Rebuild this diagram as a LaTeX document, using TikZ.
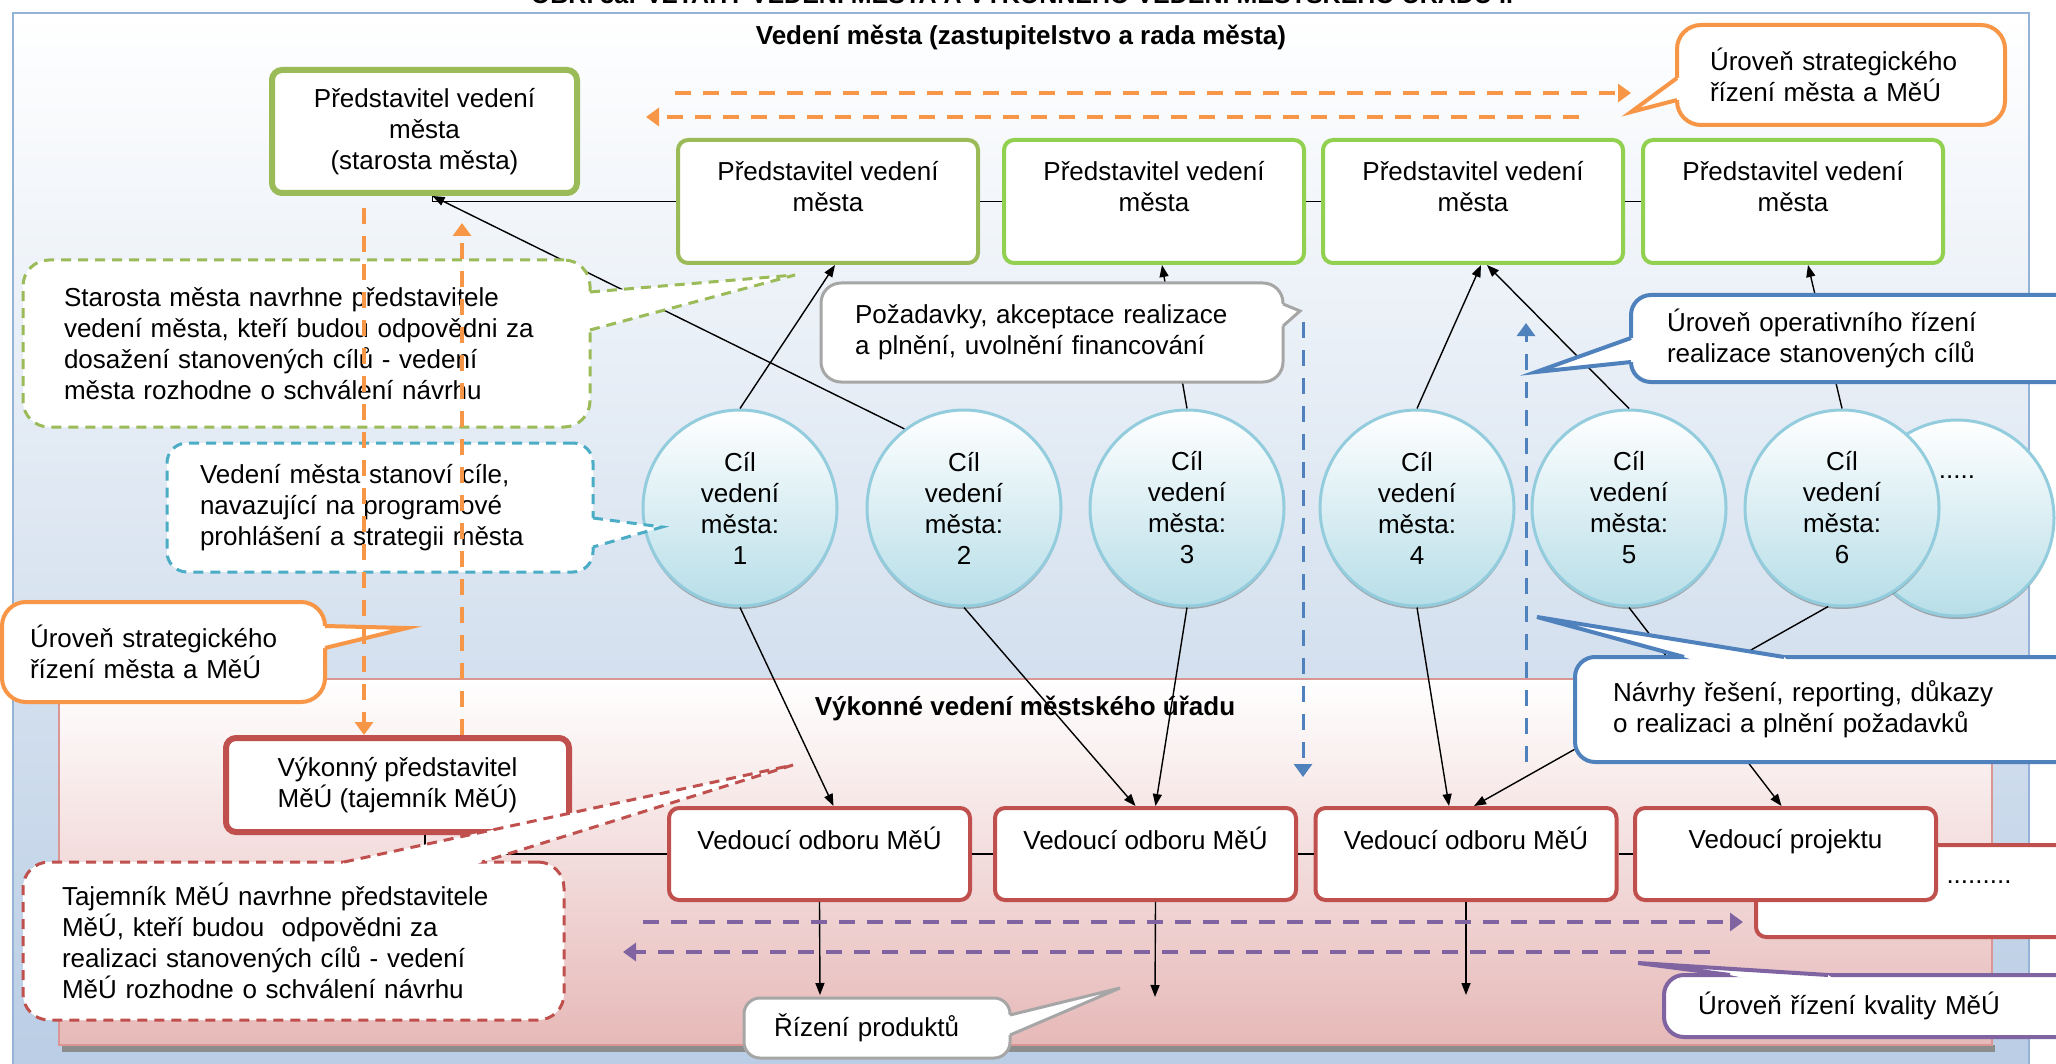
\documentclass[tikz,border=0pt]{standalone}
\usepackage{fontspec}
\setmainfont{Liberation Sans}
\usetikzlibrary{arrows.meta,shadows,calc,shapes.geometric}

\definecolor{panelblue}{HTML}{B8CCE4}
\definecolor{panelline}{HTML}{95B3D7}
\definecolor{panelpink}{HTML}{E6B9B8}
\definecolor{pinkline}{HTML}{D99694}
\definecolor{olivegreen}{HTML}{9BBB59}
\definecolor{lightgreen}{HTML}{92D050}
\definecolor{goalfill}{HTML}{B7DEE8}
\definecolor{goalline}{HTML}{93CDDD}
\definecolor{officered}{HTML}{C0504D}
\definecolor{stratorange}{HTML}{F79646}
\definecolor{operblue}{HTML}{4F81BD}
\definecolor{aqua}{HTML}{4BACC6}
\definecolor{quality}{HTML}{8064A2}
\definecolor{notegray}{HTML}{A6A6A6}

% tail of a speech bubble: node, style, base, tip, base
\newcommand\calltail[5]{%
  \fill[white] ($#3!6pt!(#1.center)$) -- #3 -- #4 -- #5 -- ($#5!6pt!(#1.center)$) -- cycle;
  \draw[#2] #3 -- #4 -- #5;}

\begin{document}
\begin{tikzpicture}[x=0.5pt,y=-0.5pt,font=\fontsize{13pt}{15.5pt}\selectfont,
  head/.style={font=\bfseries\fontsize{13pt}{15.5pt}\selectfont},
  leader/.style={draw=#1,fill=white,rounded corners=5pt,line width=2pt,align=center,
    minimum width=150pt,minimum height=61.5pt},
  chief/.style={draw=officered,fill=white,rounded corners=5pt,line width=2pt,align=center,
    minimum width=150.5pt,minimum height=46pt},
  goal/.style={ellipse,draw=goalline,line width=1.5pt,top color=white,bottom color=goalfill,
    minimum width=97pt,minimum height=98pt,inner sep=0pt,align=center,
    drop shadow={shadow xshift=0pt,shadow yshift=-1.5pt,fill=black!60,opacity=.5}},
  bubble/.style={fill=white,rounded corners=10pt,align=left,inner ysep=0pt},
  dashnote/.style={draw=#1,line width=1.5pt,dash pattern=on 5pt off 3.5pt},
  link/.style={line width=0.7pt,-{Triangle[length=6pt,width=4.5pt]}},
  flow/.style={draw=#1,line width=1.8pt,dash pattern=on 8pt off 6pt,
    -{Triangle[length=6.5pt,width=9pt]}},
]
\useasboundingbox (0,0) rectangle (2056,1064);

% panels
\shade[top color=white,bottom color=panelblue] (13,13) rectangle (2029,1090);
\draw[panelline,line width=1.2pt] (13,1090) -- (13,13) -- (2029,13) -- (2029,1090);
\fill[black!45] (62,1045) rectangle (1995,1052);
\shade[top color=white,bottom color=panelpink] (59,679) rectangle (1992,1045);
\draw[pinkline,line width=1pt] (59,679) rectangle (1992,1045);

\node[font=\bfseries\fontsize{12.5pt}{15pt}\selectfont,anchor=base] (figtitle) at (1022,4)
  {OBR. 3a: VZTAHY VEDENÍ MĚSTA A VÝKONNÉHO VEDENÍ MĚSTSKÉHO ÚŘADU I.};
\node[head] (cityhead) at (1021,37) {Vedení města (zastupitelstvo a rada města)};
\node[head] (officehead) at (1025,708) {Výkonné vedení městského úřadu};

% city leaders
\node[leader=olivegreen,line width=3pt,minimum width=152.5pt] (mayor) at (424.5,131.5)
  {Představitel vedení\\města\\(starosta města)};
\node[leader=olivegreen] (rep1) at (828,201.5) {Představitel vedení\\města\\~};
\node[leader=lightgreen] (rep2) at (1154,201.5) {Představitel vedení\\města\\~};
\node[leader=lightgreen] (rep3) at (1473,201.5) {Představitel vedení\\města\\~};
\node[leader=lightgreen] (rep4) at (1793,201.5) {Představitel vedení\\města\\~};

% goals
\node[goal] (goal7) at (1957,518) {\raisebox{20pt}[0pt][0pt]{.....}};
\foreach \n/\x in {1/740,2/964,3/1187,4/1417,5/1629,6/1842}
  \node[goal] (goal\n) at (\x,508) {Cíl\\vedení\\města:\\\n};

% office
\node[chief,line width=3pt,minimum width=171.5pt,minimum height=47pt] (secretary) at (397.5,785)
  {Výkonný představitel\\MěÚ (tajemník MěÚ)};
\node[chief,minimum width=157pt] (deptmore) at (1913,891)
  {\raisebox{4pt}[0pt][0pt]{\hspace*{66pt}.........}};
\foreach \name/\x/\t in {dept1/819.5/Vedoucí odboru MěÚ,dept2/1145.5/Vedoucí odboru MěÚ,
    dept3/1466/Vedoucí odboru MěÚ,project/1785.5/Vedoucí projektu}
  \node[chief] (\name) at (\x,854) {\t\\~};

% org lines
\draw[line width=0.7pt] ([xshift=4pt]mayor.south) |- (rep1.west)
  (rep1.east) -- (rep2.west) (rep2.east) -- (rep3.west) (rep3.east) -- (rep4.west);
\draw[line width=0.7pt] ([xshift=13.75pt]secretary.south) |- (dept1.west)
  (dept1.east) -- (dept2.west) (dept2.east) -- (dept3.west) (dept3.east) -- (project.west);

% goals up and down
\draw[link] (goal1.north) -- ([xshift=3.5pt]rep1.south);
\draw[link] (goal2.127) -- ([xshift=4pt]mayor.south);
\draw[link] (goal3.north) -- ([xshift=4pt]rep2.south);
\draw[link] (goal4.north) -- ([xshift=4pt]rep3.south);
\draw[link] (goal5.north) -- ([xshift=7pt]rep3.south);
\draw[link] (goal6.north) -- ([xshift=7.5pt]rep4.south);
\draw[link] (goal1.south) -- ([xshift=7pt]dept1.north);
\draw[link] (goal2.south) -- ([xshift=-5pt]dept2.north);
\draw[link] (goal3.south) -- ([xshift=5pt]dept2.north);
\draw[link] (goal4.south) -- ([xshift=-8.5pt]dept3.north);
\draw[link] (goal5.south) -- ([xshift=-2pt]project.north);
\draw[link] (goal6.262) -- ([xshift=4pt]dept3.north);

\coordinate (out1) at (820,995);
\coordinate (out2) at (1155,997);
\coordinate (out3) at (1466,995);
\draw[link] (dept1.south) -- (out1);
\draw[link] ([xshift=5pt]dept2.south) -- (out2);
\draw[link] (dept3.south) -- (out3);

% notes
\node[bubble,dashnote=olivegreen,rounded corners=13pt,text width=242.5pt,inner xsep=20.5pt,
  minimum height=83.5pt] (mayornote) at (306.5,343.5)
  {Starosta města navrhne představitele\\vedení města, kteří budou odpovědni za\\dosažení stanovených cílů - vedení\\města rozhodne o schválení návrhu};
\calltail{mayornote}{dashnote=olivegreen}{(590,292)}{(795,275)}{(590,330)}

\node[bubble,dashnote=aqua,text width=180pt,inner xsep=16.5pt,minimum height=64.5pt]
  (goalnote) at (380,507.5)
  {Vedení města stanoví cíle,\\navazující na programové\\prohlášení a strategii města};
\calltail{goalnote}{dashnote=aqua}{(593,518)}{(662,527)}{(593,547)}

\node[bubble,draw=notegray,line width=1.5pt,text width=197pt,inner xsep=17pt,
  minimum height=49.5pt] (demands) at (1052,332.5)
  {Požadavky, akceptace realizace\\a plnění, uvolnění financování};
\calltail{demands}{draw=notegray,line width=1.5pt}{(1283,304)}{(1300,311)}{(1283,326)}

\node[bubble,draw=stratorange,line width=2pt,rounded corners=12pt,text width=131pt,
  inner xsep=16.5pt,minimum height=50pt] (stratnote) at (1841,75)
  {Úroveň strategického\\řízení města a MěÚ};
\calltail{stratnote}{draw=stratorange,line width=2pt}{(1677,78)}{(1631,112)}{(1677,100)}

\node[bubble,draw=stratorange,line width=2pt,rounded corners=12pt,text width=133.5pt,
  inner xsep=14pt,minimum height=50pt] (stratleft) at (163.5,652)
  {Úroveň strategického\\řízení města a MěÚ};
\calltail{stratleft}{draw=stratorange,line width=2pt}{(325,626)}{(407,628)}{(325,648)}

\node[bubble,draw=operblue,line width=2pt,text width=191pt,inner xsep=18pt,
  minimum height=43.5pt] (opernote) at (1858,338.5)
  {Úroveň operativního řízení\\realizace stanovených cílů};
\calltail{opernote}{draw=operblue,line width=2pt}{(1631,338)}{(1536,372)}{(1631,362)}

\node[bubble,draw=operblue,line width=2pt,text width=226.5pt,inner xsep=19pt,
  minimum height=52.5pt] (reportnote) at (1839.5,709.5)
  {Návrhy řešení, reporting, důkazy\\o realizaci a plnění požadavků};
\calltail{reportnote}{draw=operblue,line width=2pt}{(1684,657)}{(1537,617)}{(1784,657)}

\node[bubble,dashnote=officered,rounded corners=13pt,text width=231.5pt,inner xsep=19.5pt,
  minimum height=79pt] (secnote) at (293.5,941)
  {Tajemník MěÚ navrhne představitele\\MěÚ, kteří budou\ \ odpovědni za\\realizaci stanovených cílů - vedení\\MěÚ rozhodne o schválení návrhu};
\calltail{secnote}{dashnote=officered}{(344,862)}{(793,765)}{(482,862)}

\node[bubble,draw=notegray,line width=1.5pt,rounded corners=8pt,text width=103pt,
  inner xsep=15pt,minimum height=30pt] (products) at (877,1028) {Řízení produktů};
\calltail{products}{draw=notegray,line width=1.5pt}{(1010,1015)}{(1120,988)}{(1010,1035)}

\node[bubble,draw=quality,line width=2pt,text width=176.5pt,inner xsep=17pt,
  minimum height=31pt] (qualnote) at (1874.5,1006) {Úroveň řízení kvality MěÚ};
\calltail{qualnote}{draw=quality,line width=2pt}{(1730,975)}{(1638,963)}{(1828,975)}

% levels
\coordinate (stratA) at (675,93);  \coordinate (stratB) at (1631,93);
\coordinate (stratC) at (1579,117); \coordinate (stratD) at (646,117);
\coordinate (stratdown) at (364,208); \coordinate (stratup) at (462,223);
\draw[flow=stratorange] (stratA) -- (stratB);
\draw[flow=stratorange] (stratC) -- (stratD);
\draw[flow=stratorange] (stratdown) -- (stratdown |- secretary.north);
\draw[flow=stratorange] (stratup |- secretary.north) -- (stratup);

\coordinate (operA) at (1303,322); \coordinate (operB) at (1303,777);
\coordinate (operC) at (1526,762); \coordinate (operD) at (1526,323);
\draw[flow=operblue,line width=1.5pt] (operA) -- (operB);
\draw[flow=operblue,line width=1.5pt] (operC) -- (operD);

\coordinate (qualA) at (643,922); \coordinate (qualB) at (1743,922);
\coordinate (qualC) at (1710,952); \coordinate (qualD) at (623,952);
\draw[flow=quality,line width=2pt] (qualA) -- (qualB);
\draw[flow=quality,line width=2pt] (qualC) -- (qualD);
\end{tikzpicture}
\end{document}
